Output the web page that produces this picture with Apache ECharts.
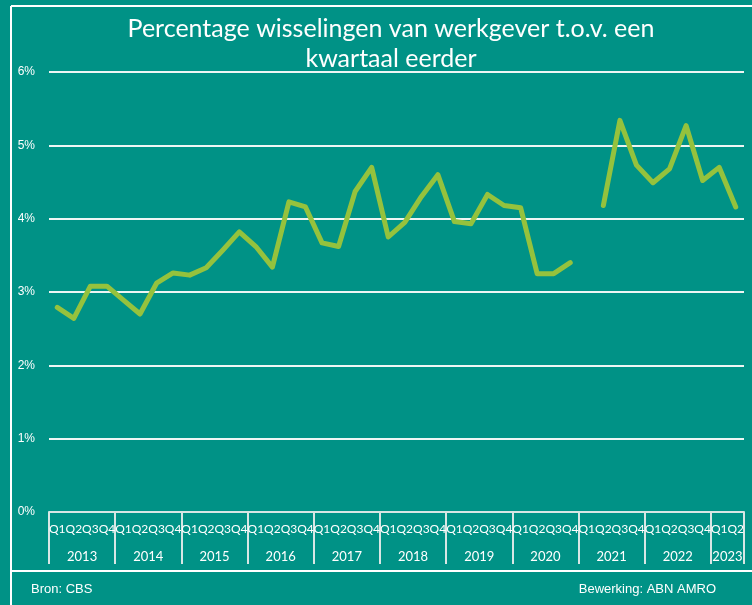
<!DOCTYPE html>
<html>
<head>
<meta charset="utf-8">
<script src="https://cdn.jsdelivr.net/npm/echarts@6/dist/echarts.min.js"></script>
<style>
  html, body { margin: 0; padding: 0; background: #009286; }
  #main { width: 752px; height: 605px; }
</style>
</head>
<body>
<div id="main"></div>
<script>
const years = ['2013', '2014', '2015', '2016', '2017', '2018', '2019', '2020', '2021', '2022', '2023'];
const quarters = ['Q1', 'Q2', 'Q3', 'Q4'];
const yTicks = [0, 1, 2, 3, 4, 5, 6];

// percentage per quarter, 2013 Q1 .. 2023 Q2 (2021 Q1 missing)
const wissel2013_2016 = [2.79, 2.64, 3.08, 3.08, 2.89, 2.70, 3.12, 3.26, 3.23, 3.33, 3.57, 3.82, 3.62, 3.34, 4.23, 4.16];
const wissel2017_2020 = [3.67, 3.62, 4.37, 4.70, 3.75, 3.95, 4.30, 4.60, 3.96, 3.93, 4.33, 4.18, 4.15, 3.25, 3.25, 3.40];
const wissel2021_2023 = [null, 4.18, 5.34, 4.73, 4.49, 4.68, 5.27, 4.52, 4.70, 4.16];

const values = wissel2013_2016.concat(wissel2017_2020, wissel2021_2023);
const categories = [];
years.forEach(y => quarters.forEach(q => {
  if (categories.length < values.length) categories.push(y + ' ' + q);
}));

const chart = echarts.init(document.getElementById('main'), null, { renderer: 'canvas' });

const labelColor = '#ffffff';
const option = {
  backgroundColor: '#009286',
  animation: false,
  title: {
    text: 'Percentage wisselingen van werkgever t.o.v. een\nkwartaal eerder',
    left: 386,
    top: 9,
    textAlign: 'center',
    textStyle: {
      color: '#ffffff',
      fontFamily: 'Lato',
      fontWeight: 'normal',
      fontSize: 25,
      lineHeight: 30
    }
  },
  grid: { left: 49, right: 8, top: 72, bottom: 93 },
  xAxis: [{
    type: 'category',
    data: categories,
    boundaryGap: true,
    axisLine: { lineStyle: { color: '#d8e6e4', width: 2 } },
    axisTick: {
      show: true,
      length: 52,
      interval: (i) => i % 4 === 0,
      lineStyle: { color: '#d8e6e4', width: 2 }
    },
    axisLabel: {
      interval: 0,
      margin: 11,
      color: labelColor,
      fontFamily: 'Lato',
      fontSize: 12,
      formatter: (v) => v.split(' ')[1]
    },
    splitLine: { show: false }
  }, {
    type: 'value',
    min: 0,
    max: categories.length,
    interval: 1,
    position: 'bottom',
    axisLine: { show: false },
    axisTick: { show: false },
    splitLine: { show: false },
    axisLabel: {
      margin: 38,
      color: labelColor,
      fontFamily: 'Lato',
      fontSize: 13,
      showMinLabel: true,
      showMaxLabel: true,
      formatter: (v) => {
        const full = Math.floor(categories.length / 4) * 4;
        if (v < full && v % 4 === 2) return years[v / 4 | 0];
        if (v === (full + categories.length) / 2 && full < categories.length) return years[full / 4];
        return '';
      }
    }
  }],
  yAxis: {
    type: 'value',
    min: yTicks[0],
    max: yTicks[yTicks.length - 1],
    interval: 1,
    axisLine: { show: false },
    axisTick: { show: false },
    axisLabel: {
      margin: 14,
      color: labelColor,
      fontFamily: 'Liberation Sans',
      fontSize: 12,
      formatter: '{value}%'
    },
    splitLine: { lineStyle: { color: '#eef5f4', width: 2 } }
  },
  series: [{
    name: 'Wisselingen',
    type: 'line',
    xAxisIndex: 0,
    data: values,
    connectNulls: false,
    showSymbol: false,
    symbol: 'none',
    lineStyle: { color: '#95c23d', width: 5, join: 'round', cap: 'round' }
  }],
  graphic: [
    { type: 'line', shape: { x1: 11, y1: 6, x2: 752, y2: 6 }, style: { stroke: '#ffffff', lineWidth: 2 } },
    { type: 'line', shape: { x1: 11, y1: 6, x2: 11, y2: 605 }, style: { stroke: '#ffffff', lineWidth: 2 } },
    { type: 'line', shape: { x1: 11, y1: 571, x2: 752, y2: 571 }, style: { stroke: '#ffffff', lineWidth: 2 } },
    { type: 'text', left: 31, top: 583, style: { text: 'Bron: CBS', fill: '#ffffff', font: '13px "Liberation Sans", Arial' } },
    { type: 'text', right: 36, top: 583, style: { text: 'Bewerking: ABN AMRO', fill: '#ffffff', font: '13px "Liberation Sans", Arial' } }
  ]
};

chart.setOption(option);
</script>
</body>
</html>
